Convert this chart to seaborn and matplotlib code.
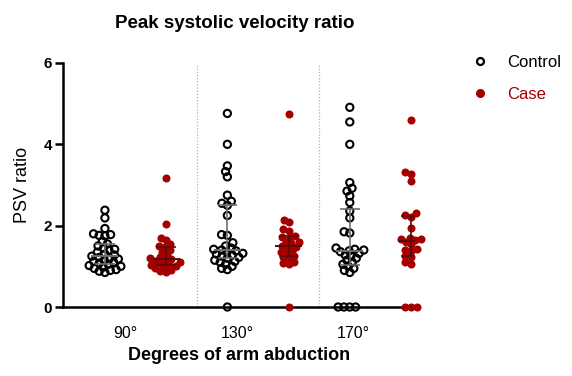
import numpy as np
import pandas as pd
import matplotlib
matplotlib.use("Agg")
import matplotlib.pyplot as plt
import seaborn as sns
from matplotlib.lines import Line2D

# ---- data ----
angles = ["90°", "130°", "170°"]
groups = ["Control", "Case"]

control_90 = [2.38, 2.19, 1.93, 1.80, 1.78, 1.76, 1.75, 1.62, 1.55, 1.50, 1.45,
              1.42, 1.40, 1.35, 1.30, 1.28, 1.25, 1.22, 1.20, 1.18, 1.15, 1.12,
              1.10, 1.08, 1.05, 1.02, 1.00, 0.98, 0.95, 0.92, 0.90, 0.88, 0.85]
case_90 = [3.17, 2.05, 1.70, 1.65, 1.55, 1.50, 1.48, 1.40, 1.35, 1.28, 1.22,
           1.20, 1.18, 1.15, 1.12, 1.10, 1.08, 1.05, 1.03, 1.00, 0.98, 0.95,
           0.92, 0.88, 0.85]
control_130 = [4.76, 4.00, 3.47, 3.33, 3.20, 2.75, 2.60, 2.55, 2.50, 2.25, 1.78,
               1.76, 1.58, 1.50, 1.45, 1.42, 1.40, 1.38, 1.35, 1.32, 1.30, 1.28,
               1.25, 1.22, 1.20, 1.15, 1.12, 1.10, 1.05, 1.00, 0.95, 0.92, 0.0]
case_130 = [4.75, 2.15, 2.08, 1.92, 1.88, 1.75, 1.73, 1.72, 1.62, 1.60, 1.58,
            1.50, 1.48, 1.47, 1.38, 1.35, 1.33, 1.25, 1.22, 1.20, 1.10, 1.08,
            1.06, 0.0]
control_170 = [4.91, 4.55, 4.00, 3.06, 2.92, 2.85, 2.73, 2.57, 2.36, 2.19, 1.85,
               1.82, 1.45, 1.42, 1.40, 1.38, 1.36, 1.32, 1.28, 1.25, 1.20, 1.15,
               1.10, 1.05, 1.00, 0.95, 0.90, 0.85, 0.0, 0.0, 0.0, 0.0]
case_170 = [4.60, 3.32, 3.28, 3.10, 2.30, 2.25, 2.22, 1.95, 1.70, 1.68, 1.66,
            1.65, 1.60, 1.55, 1.42, 1.40, 1.38, 1.26, 1.22, 1.10, 1.06, 0.0,
            0.0, 0.0]

series = [("Control", "90°", control_90), ("Case", "90°", case_90),
          ("Control", "130°", control_130), ("Case", "130°", case_130),
          ("Control", "170°", control_170), ("Case", "170°", case_170)]

RED = "#a50000"

rows = []
for i, (g, a, vals) in enumerate(series):
    for v in vals:
        rows.append({"pos": i, "value": v, "group": g, "angle": a})
df = pd.DataFrame(rows)

sns.set_theme(style="white")
plt.rcParams["font.family"] = ["Liberation Sans", "DejaVu Sans"]
for k in ("text.color", "axes.labelcolor", "xtick.color", "ytick.color"):
    plt.rcParams[k] = "black"

fig = plt.figure(figsize=(5.72, 3.76), dpi=100)
ax = fig.add_axes([0.110, 0.1835, 0.6155, 0.649])

ax.set_xlim(-0.686, 5.065)
ax.set_ylim(0, 6)

# dotted separators
for xs in (1.5, 3.5):
    ax.axvline(xs, ymin=0, ymax=1, color="#b0b0b0", lw=0.9, ls=(0, (1, 1.5)), zorder=0)

ctrl = df[df.group == "Control"]
case = df[df.group == "Case"]
# packing sizes (smaller than drawn markers so points overlap like the reference)
sns.swarmplot(data=ctrl, x="pos", y="value", native_scale=True, ax=ax,
              color="black", size=3.0, linewidth=1.0, edgecolor="black",
              warn_thresh=1, zorder=3)
n_ctrl = len(ax.collections)
sns.swarmplot(data=case, x="pos", y="value", native_scale=True, ax=ax,
              color=RED, size=4.0, linewidth=0, warn_thresh=1, zorder=3)
ax.set_xlim(-0.686, 5.065)
ax.set_ylim(0, 6)

# compute swarm positions at the packing size, then enlarge markers
fig.canvas.draw()
for idx, c in enumerate(ax.collections):
    if "draw" in c.__dict__:
        del c.draw
    c.set_clip_on(False)
    if idx < n_ctrl:
        c.set_facecolor("none")
        c.set_edgecolor("black")
        c.set_linewidth(1.5)
        c.set_sizes([5.2 ** 2])
    else:
        c.set_sizes([5.8 ** 2])

# median with interquartile range
for i, (g, a, vals) in enumerate(series):
    q1, med, q3 = np.percentile(vals, [25, 50, 75])
    col = "#6e6e6e" if g == "Control" else "#5a0a0a"
    ax.vlines(i, q1, q3, color=col, lw=1.2, zorder=4)
    ax.hlines([q1, q3], i - 0.16, i + 0.16, color=col, lw=1.2, zorder=4)
    ax.hlines(med, i - 0.22, i + 0.22, color=col, lw=1.4, zorder=4)

ax.set_xlim(-0.686, 5.065)
ax.set_ylim(0, 6)
ax.set_yticks([0, 2, 4, 6])
ax.set_xticks([0.33, 2.17, 4.05])
ax.set_xticklabels(angles, fontsize=11.5)
for t in ax.get_yticklabels():
    t.set_fontweight("bold")
    t.set_fontsize(11)
ax.tick_params(axis="y", which="major", length=6, width=1.8, left=True,
               color="black", pad=2)
ax.tick_params(axis="x", length=0, pad=14)

for s in ("top", "right"):
    ax.spines[s].set_visible(False)
for s in ("left", "bottom"):
    ax.spines[s].set_color("black")
    ax.spines[s].set_linewidth(1.8)

ax.set_xlabel("Degrees of arm abduction", fontsize=13, fontweight="bold", labelpad=4)
ax.set_ylabel("PSV ratio", fontsize=13, labelpad=9)
fig.text(0.411, 0.937, "Peak systolic velocity ratio", ha="center", va="center",
         fontsize=13.5, fontweight="bold")

handles = [Line2D([], [], ls="none", marker="o", markerfacecolor="none",
                  markeredgecolor="black", markeredgewidth=1.6, markersize=5),
           Line2D([], [], ls="none", marker="o", markerfacecolor=RED,
                  markeredgecolor=RED, markersize=5.5)]
leg = fig.legend(handles, groups, loc="upper left", bbox_to_anchor=(0.81, 0.877),
                 frameon=False, fontsize=12, labelspacing=1.05, handletextpad=1.1,
                 handlelength=1.0, borderpad=0)
leg.get_texts()[1].set_color(RED)

fig.savefig("out.png", dpi=100)
